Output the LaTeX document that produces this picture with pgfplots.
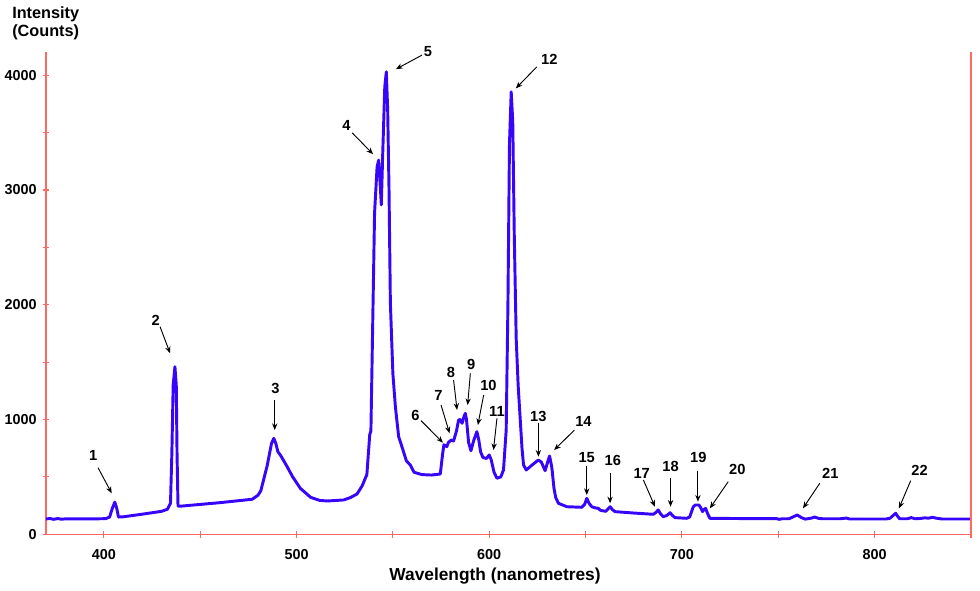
\documentclass[border=0pt]{standalone}
\usepackage{fontspec}
\setmainfont{Liberation Sans}
\usepackage{pgfplots}
\pgfplotsset{compat=1.18}
\usetikzlibrary{arrows.meta}
\definecolor{axred}{RGB}{255,105,95}
\definecolor{specblue}{RGB}{55,5,250}

\begin{document}
\begin{tikzpicture}[lbl/.style={font=\fontsize{11}{12}\selectfont\bfseries,inner sep=0pt},
  arr/.style={black,line width=0.7pt,-{Stealth[length=5pt,width=4pt]}}]
\useasboundingbox (-34.5pt,-42.5pt) rectangle (700.5pt,400.7pt);
\begin{axis}[at={(0,0)},anchor=south west,
  width=693.75pt,height=361.5pt,scale only axis,
  xmin=370,xmax=850,ymin=0,ymax=4200,
  xtick={400,500,600,700,800},minor xtick={450,550,650,750,850},
  ytick={0,1000,2000,3000,4000},minor ytick={500,1500,2500,3500},
  axis x line*=bottom,axis y line*=left,
  axis line style={draw=axred,line width=0.8pt,-},
  tick style={draw=axred,line width=0.8pt},tick align=center,
  major tick length=5pt,minor tick length=5pt,
  /pgf/number format/assume math mode=true,
  /pgf/number format/1000 sep={},
  ticklabel style={font=\fontsize{10.8}{12}\selectfont\bfseries},
  xticklabel style={yshift=-5pt},
  yticklabel style={xshift=-1pt},
  clip=false]
\addplot[specblue,line width=2.2pt,line join=round] coordinates {
(370,133)(372,138)(374,130)(376,137)(378,131)(380,134)(385,134)(395,134)
(401,136)(403,150)(404.5,230)(405.7,280)(406.8,220)(407.6,150)(410,152)
(420,175)(430,200)(433,218)(434.6,270)(435.3,700)(436,1300)(436.9,1460)
(437.6,1300)(438,700)(438.5,245)(440,245)(460,275)(477,305)(480,340)
(481.5,380)(484.8,600)(487,790)(488.2,836)(489.3,790)(490.3,720)(492,680)
(495.1,590)(498,500)(502,400)(507.3,322)(512,295)(516,290)(524.5,299)
(528,320)(531.4,351)(534,420)(536.5,520)(538,870)(538.6,900)(539.5,1800)
(540.5,2800)(541.8,3200)(542.6,3260)(543.4,3050)(544,2870)(544.7,3300)
(545.8,3900)(546.6,4030)(547.3,3700)(548,3000)(548.7,2016)(550,1400)
(551.3,1111)(553,850)(554.7,763)(557,640)(559,604)(561,540)(565,520)
(570,516)(574.6,525)(575.8,700)(576.5,780)(578,763)(578.8,800)(580.3,821)
(581.5,813)(583,900)(584.1,996)(585,1000)(585.9,967)(587,1030)(587.6,1054)
(588.2,1000)(589.3,800)(590.5,728)(592,820)(593.6,894)(594.6,820)
(595.5,720)(596.7,670)(598.5,660)(600,691)(601,650)(602.5,540)(604,488)
(606,500)(607.4,560)(608.8,908)(609.7,2000)(610.5,3400)(611.4,3855)
(612.2,3600)(613,2600)(614,1700)(615,1300)(616.1,996)(617,750)(617.8,604)
(619.2,560)(622,600)(625.5,647)(627,630)(629,554)(630.5,640)(631.3,682)
(632.3,600)(632.7,550)(633.6,400)(634.5,320)(635.9,270)(640.3,240)
(648,235)(649.5,260)(650.6,313)(651.8,270)(653.2,240)(655,230)(656.6,226)
(657.6,210)(658.4,206)(660.5,200)(662.7,240)(663.9,215)(665.3,197)
(675,185)(685.1,174)(686.5,190)(687.7,212)(688.8,180)(690.3,153)
(692.3,165)(693.8,188)(695,165)(696.4,145)(702.4,139)(704,150)(705.9,240)
(707,255)(708.8,255)(709.8,230)(710.7,197)(711.4,215)(712.3,226)
(713.3,180)(714.5,139)(730,137)(749,137)(750.5,130)(752,135)(755.5,135)
(757.5,150)(759.8,168)(762,145)(764,132)(767,140)(768.9,150)(771,138)
(773.2,135)(778,135)(782,135)(785.3,141)(787,133)(806,133)(808,140)
(810.9,183)(812,155)(813,135)(817,135)(819,145)(821,135)(824,138)
(826,143)(828,140)(830,148)(832,140)(835,133)(849.7,133)};
% right frame line
\draw[axred,line width=0.8pt] (rel axis cs:1,0) -- (rel axis cs:1,1);
% peak labels
\node[lbl] at (axis cs:394.5,685) {1};
\draw[arr] (axis cs:397,580) -- (axis cs:404.1,357);
\node[lbl] at (axis cs:426.9,1868) {2};
\draw[arr] (axis cs:429.2,1808) -- (axis cs:434.4,1577);
\node[lbl] at (axis cs:489.1,1272) {3};
\draw[arr] (axis cs:488.7,1170) -- (axis cs:488.7,908);
\node[lbl] at (axis cs:525.9,3565) {4};
\draw[arr] (axis cs:528.9,3498) -- (axis cs:539.7,3312);
\node[lbl] at (axis cs:568.2,4209) {5};
\draw[arr] (axis cs:565.1,4175) -- (axis cs:551.6,4053);
\node[lbl] at (axis cs:561.7,1039) {6};
\draw[arr] (axis cs:564.6,990) -- (axis cs:576,798);
\node[lbl] at (axis cs:573.7,1213) {7};
\draw[arr] (axis cs:575,1126) -- (axis cs:579.4,880);
\node[lbl] at (axis cs:580.1,1408) {8};
\draw[arr] (axis cs:581.5,1344) -- (axis cs:583.3,1083);
\node[lbl] at (axis cs:590.7,1483) {9};
\draw[arr] (axis cs:590.2,1402) -- (axis cs:588.8,1126);
\node[lbl] at (axis cs:599.6,1300) {10};
\draw[arr] (axis cs:597.1,1213) -- (axis cs:594.1,952);
\node[lbl] at (axis cs:604,1068) {11};
\draw[arr] (axis cs:604,1010) -- (axis cs:602.2,734);
\node[lbl] at (axis cs:631.2,4140) {12};
\draw[arr] (axis cs:624.7,4073) -- (axis cs:613.8,3885);
\node[lbl] at (axis cs:625.5,1024) {13};
\draw[arr] (axis cs:625.5,967) -- (axis cs:625.5,676);
\node[lbl] at (axis cs:648.9,981) {14};
\draw[arr] (axis cs:644.2,908) -- (axis cs:633.7,734);
\node[lbl] at (axis cs:650.6,670) {15};
\draw[arr] (axis cs:650.6,595) -- (axis cs:650.6,342);
\node[lbl] at (axis cs:664.1,647) {16};
\draw[arr] (axis cs:662.7,531) -- (axis cs:662.7,270);
\node[lbl] at (axis cs:679.1,531) {17};
\draw[arr] (axis cs:680,473) -- (axis cs:686,240);
\node[lbl] at (axis cs:694.1,589) {18};
\draw[arr] (axis cs:694.1,488) -- (axis cs:694.1,240);
\node[lbl] at (axis cs:708.5,670) {19};
\draw[arr] (axis cs:708.3,554) -- (axis cs:708.3,284);
\node[lbl] at (axis cs:728.7,566) {20};
\draw[arr] (axis cs:724,458) -- (axis cs:714.5,226);
\node[lbl] at (axis cs:777,531) {21};
\draw[arr] (axis cs:771.5,444) -- (axis cs:762.8,226);
\node[lbl] at (axis cs:823.3,554) {22};
\draw[arr] (axis cs:818.7,467) -- (axis cs:812.6,226);
% x label
\node[font=\fontsize{13}{14}\selectfont\bfseries,inner sep=0pt] at (axis cs:603,0) [yshift=-31pt] {Wavelength (nanometres)};
\end{axis}
\node[anchor=north west,align=left,inner sep=0pt,font=\fontsize{12.2}{13.8}\selectfont\bfseries] at (-25.5pt,396pt) {Intensity\\(Counts)};
\end{tikzpicture}
\end{document}
